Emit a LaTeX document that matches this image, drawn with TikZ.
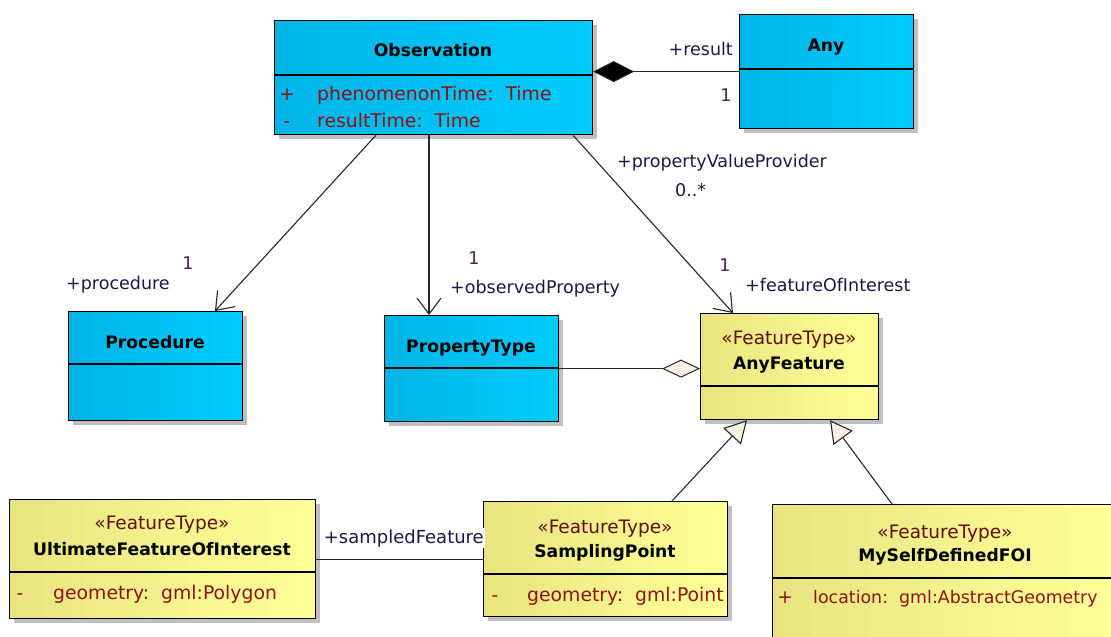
\documentclass[tikz,border=0pt]{standalone}
\usepackage{fontspec}
\setmainfont{DejaVu Sans}
\usetikzlibrary{arrows.meta,shadows,calc}
\definecolor{blueL}{RGB}{0,180,230}
\definecolor{blueR}{RGB}{0,204,255}
\definecolor{yelL}{RGB}{232,228,128}
\definecolor{yelR}{RGB}{255,255,152}
\definecolor{cream}{RGB}{250,240,225}
\definecolor{attrred}{RGB}{140,20,20}
\definecolor{lblcol}{RGB}{25,25,70}
\definecolor{multcol}{RGB}{80,30,80}
\begin{document}
\begin{tikzpicture}[x=1pt,y=-1pt,
  font=\fontsize{17.5}{20}\selectfont,
  box/.style={draw=black, line width=1.2pt, inner sep=0, anchor=north west,
    drop shadow={shadow xshift=4pt, shadow yshift=-4pt, fill=black!25, opacity=1}},
  bluebox/.style={box, left color=blueL, right color=blueR},
  yelbox/.style={box, left color=yelL, right color=yelR},
  divider/.style={draw=black, line width=1.2pt},
  title/.style={inner sep=0, anchor=base, font=\fontsize{17.2}{20}\selectfont\bfseries, text=black},
  stereo/.style={inner sep=0, anchor=base, font=\fontsize{18.5}{20}\selectfont, text=attrred!70!black},
  attr/.style={inner sep=0, anchor=base west, font=\fontsize{18.8}{20}\selectfont, text=attrred},
  vis/.style={inner sep=0, anchor=base, font=\fontsize{18.5}{20}\selectfont, text=attrred},
  role/.style={inner sep=0, anchor=base west, text=lblcol},
  mult/.style={inner sep=0, anchor=base, text=multcol},
  conn/.style={draw=black!85, line width=1.1pt},
  nav/.style={conn, -{Straight Barb[length=16pt,width=24pt,line width=1.1pt]}},
  gen/.style={conn, -{Triangle[length=22pt,width=24pt,fill=cream,line width=1.1pt]}},
]
\useasboundingbox (0,0) rectangle (1111,637);
\clip (0,0) rectangle (1111,637);

% ---- boxes ----
\node[bluebox, minimum width=318pt, minimum height=114pt] (obs) at (274,20) {};
\node[bluebox, minimum width=174pt, minimum height=114pt] (any) at (739,14) {};
\node[bluebox, minimum width=174pt, minimum height=109pt] (proc) at (68,311) {};
\node[bluebox, minimum width=174pt, minimum height=106pt] (pt) at (384,315) {};
\node[yelbox, minimum width=178pt, minimum height=106pt] (af) at (700,313) {};
\node[yelbox, minimum width=306pt, minimum height=119pt] (ufoi) at (9,499) {};
\node[yelbox, minimum width=244pt, minimum height=115pt] (sp) at (483,501) {};
\node[yelbox, minimum width=350pt, minimum height=150pt] (mfoi) at (772,504) {};

% ---- dividers ----
\draw[divider] ($(obs.north west)+(0,55)$) -- ($(obs.north east)+(0,55)$);
\draw[divider] ($(any.north west)+(0,55)$) -- ($(any.north east)+(0,55)$);
\draw[divider] ($(proc.north west)+(0,53)$) -- ($(proc.north east)+(0,53)$);
\draw[divider] ($(pt.north west)+(0,53)$) -- ($(pt.north east)+(0,53)$);
\draw[divider] ($(af.north west)+(0,73)$) -- ($(af.north east)+(0,73)$);
\draw[divider] ($(ufoi.north west)+(0,73)$) -- ($(ufoi.north east)+(0,73)$);
\draw[divider] ($(sp.north west)+(0,73)$) -- ($(sp.north east)+(0,73)$);
\draw[divider] ($(mfoi.north west)+(0,74)$) -- ($(mfoi.north east)+(0,74)$);

% ---- texts ----
\node[title] (tobs) at (433,56) {Observation};
\node[vis] (v1) at (287,100) {+};
\node[attr] (a1) at (317,100) {phenomenonTime:\ \ Time};
\node[vis] (v2) at (287,127) {-};
\node[attr] (a2) at (317,127) {resultTime:\ \ Time};

\node[title] (tany) at (826,51) {Any};
\node[title] (tproc) at (155,348) {Procedure};
\node[title] (tpt) at (471,352) {PropertyType};

\node[stereo] (saf) at (789,344) {«FeatureType»};
\node[title] (taf) at (789,369) {AnyFeature};

\node[stereo] (sufoi) at (162,529) {«FeatureType»};
\node[title] (tufoi) at (162,555) {UltimateFeatureOfInterest};
\node[vis] (v3) at (20,599) {-};
\node[attr] (a3) at (53,599) {geometry:\ \ gml:Polygon};

\node[stereo] (ssp) at (605,533) {«FeatureType»};
\node[title] (tsp) at (605,557) {SamplingPoint};
\node[vis] (v4) at (495,601) {-};
\node[attr] (a4) at (527,601) {geometry:\ \ gml:Point};

\node[stereo] (smf) at (945,538) {«FeatureType»};
\node[title] (tmf) at (945,561) {MySelfDefinedFOI};
\node[vis] (v5) at (785,603) {+};
\node[attr, font=\fontsize{17.4}{20}\selectfont] (a5) at (813,603) {location:\ \ gml:AbstractGeometry};

% ---- connectors ----
\draw[conn, {Diamond[length=41pt,width=21pt,fill=black,line width=1pt]}-] (obs.east |- any.west) -- (any.west);
\draw[conn, -{Diamond[length=38pt,width=18pt,fill=cream,line width=1pt]}] (pt.east) -- (af.west |- pt.east);
\draw[conn] (ufoi.east) -- (sp.west |- ufoi.east);

\draw[nav] ([xshift=102pt]obs.south west) -- ([xshift=147pt]proc.north west);
\draw[nav] ([xshift=155pt]obs.south west) -- ([xshift=45pt]pt.north west);
\draw[nav] ([xshift=299pt]obs.south west) -- ([xshift=33pt]af.north west);

\draw[gen] ([xshift=189pt]sp.north west) -- ([xshift=47pt]af.south west);
\draw[gen] ([xshift=120pt]mfoi.north west) -- ([xshift=130pt]af.south west);

% ---- connector labels ----
\node[role, anchor=base east] (lres) at (733,55) {+result};
\node[mult] (mres) at (726,101) {1};
\node[role] (lproc) at (66,289) {+procedure};
\node[mult] (mproc) at (188,269) {1};
\node[mult] (mpt) at (474,264) {1};
\node[role] (lpt) at (450,293) {+observedProperty};
\node[role] (lpvp) at (617,167) {+propertyValueProvider};
\node[role] (mpvp) at (675,196) {0..*};
\node[mult] (maf) at (725,271) {1};
\node[role] (laf) at (745,291) {+featureOfInterest};
\node[role, fill=white, inner sep=1pt, anchor=base east, font=\fontsize{18}{20}\selectfont] (lsf) at (485,543) {+sampledFeature};
\end{tikzpicture}
\end{document}
